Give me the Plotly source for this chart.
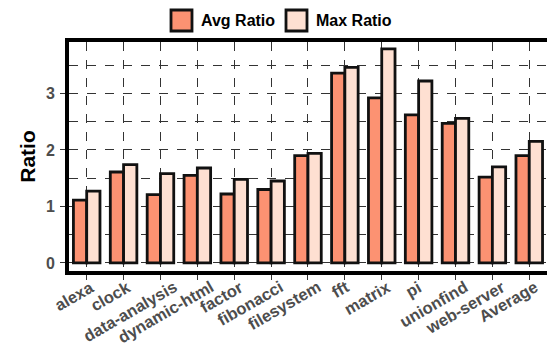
import plotly.graph_objects as go

categories = ["alexa", "clock", "data-analysis", "dynamic-html", "factor", "fibonacci",
              "filesystem", "fft", "matrix", "pi", "unionfind", "web-server", "Average"]
avg_ratio = [1.11, 1.61, 1.21, 1.55, 1.22, 1.30, 1.90, 3.36, 2.92, 2.62, 2.47, 1.52, 1.90]
max_ratio = [1.27, 1.74, 1.58, 1.68, 1.48, 1.45, 1.94, 3.46, 3.79, 3.22, 2.56, 1.70, 2.15]
series_names = ["Avg Ratio", "Max Ratio"]
colors = ["#fc9272", "#fee0d2"]
y_ticks = [0, 1, 2, 3]

W, H = 547, 345
L, T, R, B = 69, 42, 0, 74
pw, ph = W - L - R, H - T - B

fig = go.Figure()
for name, vals, col in zip(series_names, [avg_ratio, max_ratio], colors):
    fig.add_trace(go.Bar(
        x=list(range(len(categories))), y=vals, name=name,
        marker=dict(color=col, line=dict(color="#111111", width=2.8)),
        showlegend=False,
    ))

bold = dict(family="Liberation Sans, Arial, sans-serif", weight="bold")

fig.update_layout(
    width=W, height=H,
    margin=dict(l=L, r=R, t=T, b=B, pad=0, autoexpand=False),
    paper_bgcolor="white", plot_bgcolor="white",
    barmode="group", bargap=0.28, bargroupgap=0,
    font=dict(family="Liberation Sans, Arial, sans-serif"),
)
fig.update_xaxes(
    automargin=False,
    range=[-(86.7 - L) / 36.88, -(86.7 - L) / 36.88 + pw / 36.88],
    tickmode="array", tickvals=list(range(len(categories))), ticktext=categories,
    showticklabels=False,
    ticks="outside", ticklen=5, tickwidth=1.2, tickcolor="#333",
    showgrid=True, gridcolor="#333", griddash="dash", gridwidth=1,
    showline=True, linecolor="black", linewidth=4, mirror=True,
    zeroline=False,
)
fig.update_yaxes(
    automargin=False,
    range=[-(269 - 261) / 56, (261 - T) / 56],
    tickmode="array", tickvals=y_ticks, ticktext=[str(v) for v in y_ticks],
    tickfont=dict(size=16, color="#4d4d4d", **bold),
    ticklabelstandoff=2,
    ticks="outside", ticklen=5, tickwidth=1.2, tickcolor="#333",
    showgrid=True, gridcolor="#333", griddash="dash", gridwidth=1,
    minor=dict(dtick=0.5, tick0=0, showgrid=True, gridcolor="#333", griddash="dash", gridwidth=1, ticks=""),
    showline=True, linecolor="black", linewidth=4, mirror=False,
    zeroline=False,
    title=dict(text="Ratio", font=dict(size=21, color="black", **bold), standoff=6),
)

# rotated category labels (ggplot-style: angle 30, right/top justified)
for i, lab in enumerate(categories):
    fig.add_annotation(
        x=i, xref="x", y=0, yref="paper", text=lab, showarrow=False,
        textangle=-30, xanchor="right", yanchor="top",
        xshift=5 + 1.25 * len(lab), yshift=-5, borderpad=0,
        font=dict(size=16.5, color="#4d4d4d", **bold),
    )

# custom legend (top center)
def px2paper(x, y):
    return (x - L) / pw, (H - B - y) / ph

legend_items = [(171, series_names[0], colors[0]), (286, series_names[1], colors[1])]
for x0, name, col in legend_items:
    ax0, ay0 = px2paper(x0, 10)
    ax1, ay1 = px2paper(x0 + 21, 31)
    fig.add_shape(type="rect", xref="paper", yref="paper", x0=ax0, x1=ax1, y0=ay1, y1=ay0,
                  fillcolor=col, line=dict(color="#111111", width=2.8), layer="above")
    tx, ty = px2paper(x0 + 28, 20.5)
    fig.add_annotation(xref="paper", yref="paper", x=tx, y=ty, text=name, showarrow=False,
                       xanchor="left", yanchor="middle",
                       font=dict(size=16, color="black", **bold))

fig.write_html("out.html", config={"displayModeBar": False},
               post_script="document.body.style.margin='0';document.body.style.overflow='hidden';")
